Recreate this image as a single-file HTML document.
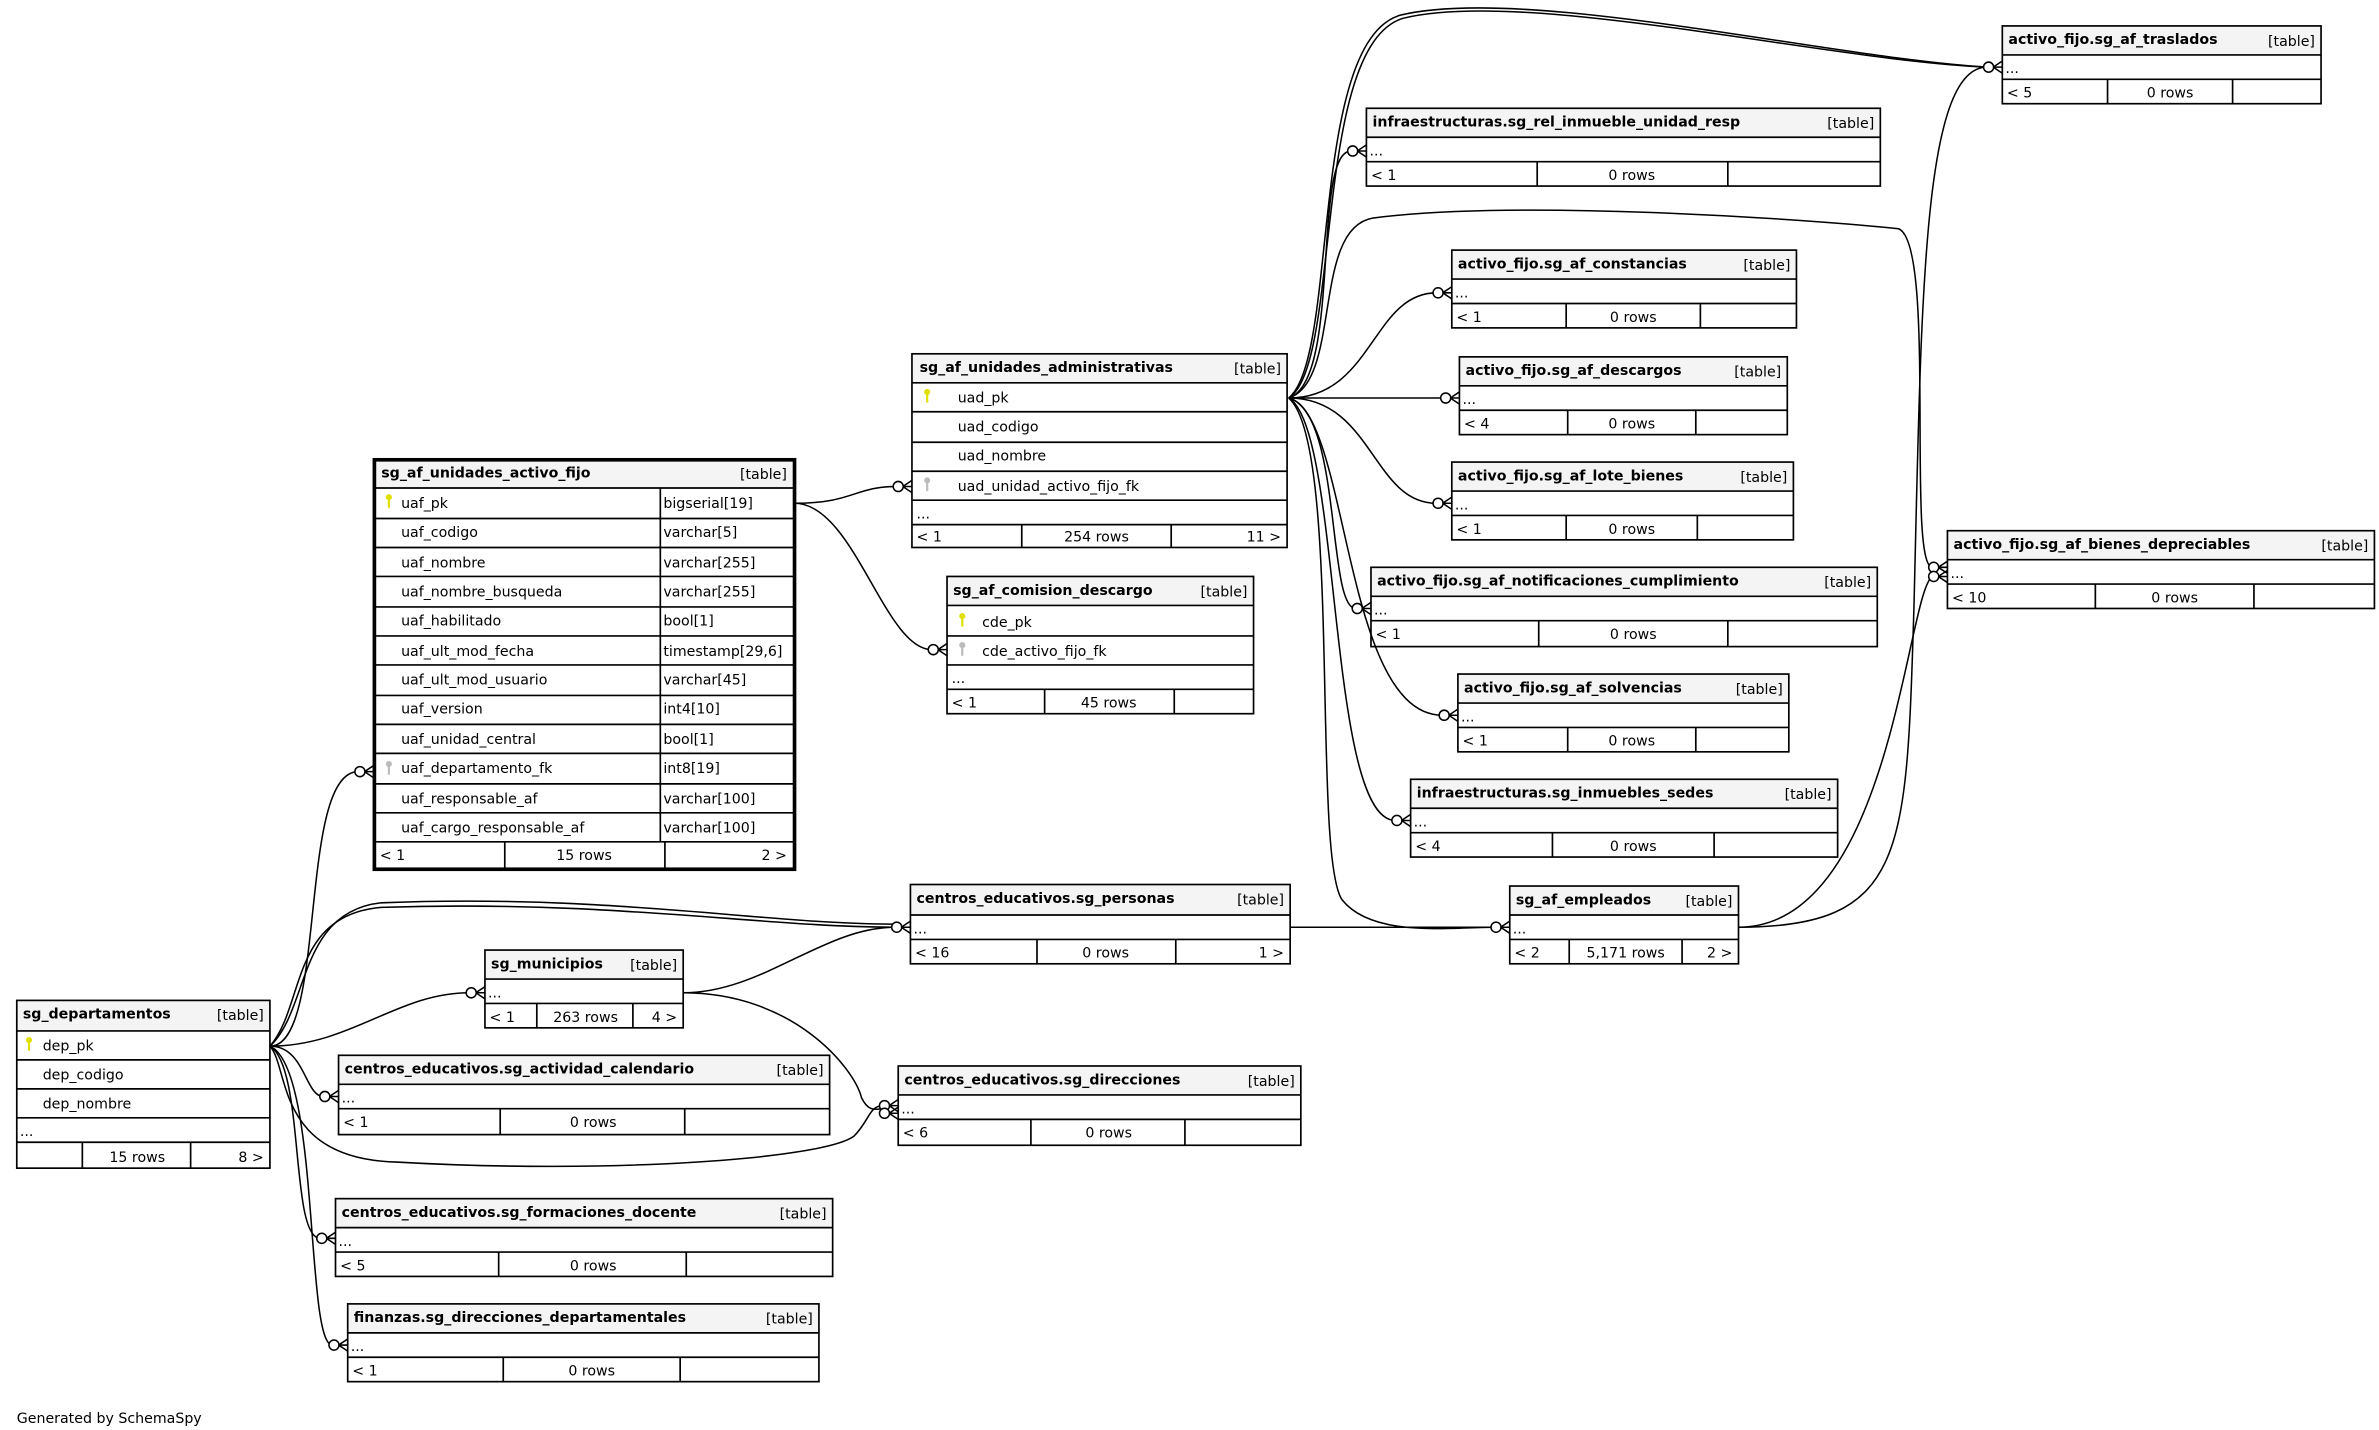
<!DOCTYPE html>
<html><head><meta charset="utf-8"><style>
html,body{margin:0;padding:0;background:#fff;}
svg{display:block;}
text{font-family:"DejaVu Sans","Liberation Sans",sans-serif;font-size:9.3px;fill:#000;}
.h{font-weight:bold;}
.e{text-anchor:end;}
.m{text-anchor:middle;}
.b{fill:none;stroke:#000;stroke-width:1.1;}
.bb{fill:none;stroke:#000;stroke-width:2.4;}
.hd{fill:#f4f4f4;}
.l{stroke:#000;stroke-width:1.1;}
.c{fill:none;stroke:#000;stroke-width:1;}
.k{fill:#e0e000;}
.g{fill:#bbb;}
</style></head><body>
<svg width="2379" height="1430" viewBox="0 0 1560 937.7" xmlns="http://www.w3.org/2000/svg">
<rect width="1560" height="938" fill="#fff"/>

<g class="c">
<path d="M845,261 C880,240 860,30 920,12 C1000,-8 1200,40 1303,44"/>
<path d="M845,261 C878,235 858,28 918,10 C1000,-10 1200,38 1303,44"/>
<path d="M845,261 C880,250 860,99 886,99"/>
<path d="M845,261 C900,261 900,192 942,192"/>
<path d="M845,261 L947,261"/>
<path d="M845,261 C900,261 900,330 942,330"/>
<path d="M845,261 C880,270 870,399 889,399"/>
<path d="M845,261 C885,270 880,469 946,469"/>
<path d="M845,261 C880,280 870,538 915,538"/>
<path d="M845,261 C880,290 860,560 880,590 C900,615 950,608 980,608"/>
<path d="M845,261 C880,250 860,150 900,143 C1000,130 1200,145 1245,150 C1270,160 1250,370 1267,372"/>
<path d="M1140,608 C1250,608 1250,560 1255,400 C1260,200 1260,44 1303,44"/>
<path d="M1140,608 C1240,608 1250,390 1267,378"/>
<path d="M846,608 L980,608"/>
<path d="M521,330 C560,330 560,319 588,319"/>
<path d="M521,330 C560,330 580,426 611,426"/>
<path d="M177,686 C215,686 195,506 235,506"/>
<path d="M177,686 C200,660 190,600 250,595 C400,590 500,608 587,608"/>
<path d="M177,686 C203,662 195,598 250,592 C400,586 500,606 587,606"/>
<path d="M177,686 C230,686 260,651 308,651"/>
<path d="M177,686 C200,686 200,719 212,719"/>
<path d="M177,686 C190,700 180,760 260,762 C400,770 540,760 560,745 C570,735 570,725 579,725"/>
<path d="M177,686 C200,700 190,812 210,812"/>
<path d="M177,686 C210,700 200,882 218,882"/>
<path d="M448,651 C500,651 540,608 587,608"/>
<path d="M448,651 C520,651 560,700 565,720 C570,730 575,727 579,727"/>
</g>
<g class="c" fill="#fff">
<g transform="translate(1313,44)"><circle cx="-9" cy="0" r="3.3" fill="#fff"/><path d="M-6,0 L0,-4 M-6,0 L0,4 M-6,0 L0,0"/></g>
<g transform="translate(896,99)"><circle cx="-9" cy="0" r="3.3" fill="#fff"/><path d="M-6,0 L0,-4 M-6,0 L0,4 M-6,0 L0,0"/></g>
<g transform="translate(952,192)"><circle cx="-9" cy="0" r="3.3" fill="#fff"/><path d="M-6,0 L0,-4 M-6,0 L0,4 M-6,0 L0,0"/></g>
<g transform="translate(957,261)"><circle cx="-9" cy="0" r="3.3" fill="#fff"/><path d="M-6,0 L0,-4 M-6,0 L0,4 M-6,0 L0,0"/></g>
<g transform="translate(952,330)"><circle cx="-9" cy="0" r="3.3" fill="#fff"/><path d="M-6,0 L0,-4 M-6,0 L0,4 M-6,0 L0,0"/></g>
<g transform="translate(899,399)"><circle cx="-9" cy="0" r="3.3" fill="#fff"/><path d="M-6,0 L0,-4 M-6,0 L0,4 M-6,0 L0,0"/></g>
<g transform="translate(956,469)"><circle cx="-9" cy="0" r="3.3" fill="#fff"/><path d="M-6,0 L0,-4 M-6,0 L0,4 M-6,0 L0,0"/></g>
<g transform="translate(925,538)"><circle cx="-9" cy="0" r="3.3" fill="#fff"/><path d="M-6,0 L0,-4 M-6,0 L0,4 M-6,0 L0,0"/></g>
<g transform="translate(990,608)"><circle cx="-9" cy="0" r="3.3" fill="#fff"/><path d="M-6,0 L0,-4 M-6,0 L0,4 M-6,0 L0,0"/></g>
<g transform="translate(1277,372)"><circle cx="-9" cy="0" r="3.3" fill="#fff"/><path d="M-6,0 L0,-4 M-6,0 L0,4 M-6,0 L0,0"/></g>
<g transform="translate(1277,378)"><circle cx="-9" cy="0" r="3.3" fill="#fff"/><path d="M-6,0 L0,-4 M-6,0 L0,4 M-6,0 L0,0"/></g>
<g transform="translate(598,319)"><circle cx="-9" cy="0" r="3.3" fill="#fff"/><path d="M-6,0 L0,-4 M-6,0 L0,4 M-6,0 L0,0"/></g>
<g transform="translate(621,426)"><circle cx="-9" cy="0" r="3.3" fill="#fff"/><path d="M-6,0 L0,-4 M-6,0 L0,4 M-6,0 L0,0"/></g>
<g transform="translate(245,506)"><circle cx="-9" cy="0" r="3.3" fill="#fff"/><path d="M-6,0 L0,-4 M-6,0 L0,4 M-6,0 L0,0"/></g>
<g transform="translate(597,608)"><circle cx="-9" cy="0" r="3.3" fill="#fff"/><path d="M-6,0 L0,-4 M-6,0 L0,4 M-6,0 L0,0"/></g>
<g transform="translate(318,651)"><circle cx="-9" cy="0" r="3.3" fill="#fff"/><path d="M-6,0 L0,-4 M-6,0 L0,4 M-6,0 L0,0"/></g>
<g transform="translate(222,719)"><circle cx="-9" cy="0" r="3.3" fill="#fff"/><path d="M-6,0 L0,-4 M-6,0 L0,4 M-6,0 L0,0"/></g>
<g transform="translate(589,725)"><circle cx="-9" cy="0" r="3.3" fill="#fff"/><path d="M-6,0 L0,-4 M-6,0 L0,4 M-6,0 L0,0"/></g>
<g transform="translate(589,730)"><circle cx="-9" cy="0" r="3.3" fill="#fff"/><path d="M-6,0 L0,-4 M-6,0 L0,4 M-6,0 L0,0"/></g>
<g transform="translate(220,812)"><circle cx="-9" cy="0" r="3.3" fill="#fff"/><path d="M-6,0 L0,-4 M-6,0 L0,4 M-6,0 L0,0"/></g>
<g transform="translate(228,882)"><circle cx="-9" cy="0" r="3.3" fill="#fff"/><path d="M-6,0 L0,-4 M-6,0 L0,4 M-6,0 L0,0"/></g>
</g>

<g><rect class="hd" x="1313" y="17" width="209" height="19"/><rect class="b" x="1313" y="17" width="209" height="51"/>
<line class="l" x1="1313" y1="36" x2="1522" y2="36"/><line class="l" x1="1313" y1="52" x2="1522" y2="52"/>
<line class="l" x1="1382" y1="52" x2="1382" y2="68"/><line class="l" x1="1464" y1="52" x2="1464" y2="68"/>
<text class="h" x="1317" y="29">activo_fijo.sg_af_traslados</text><text class="e" x="1518" y="30">[table]</text>
<text x="1315" y="48">...</text><text x="1316" y="64">&lt; 5</text><text class="m" x="1423" y="64">0 rows</text></g>
<g><rect class="hd" x="896" y="71" width="337" height="19"/><rect class="b" x="896" y="71" width="337" height="51"/>
<line class="l" x1="896" y1="90" x2="1233" y2="90"/><line class="l" x1="896" y1="106" x2="1233" y2="106"/>
<line class="l" x1="1008" y1="106" x2="1008" y2="122"/><line class="l" x1="1133" y1="106" x2="1133" y2="122"/>
<text class="h" x="900" y="83">infraestructuras.sg_rel_inmueble_unidad_resp</text><text class="e" x="1229" y="84">[table]</text>
<text x="898" y="102">...</text><text x="899" y="118">&lt; 1</text><text class="m" x="1070" y="118">0 rows</text></g>
<g><rect class="hd" x="952" y="164" width="226" height="19"/><rect class="b" x="952" y="164" width="226" height="51"/>
<line class="l" x1="952" y1="183" x2="1178" y2="183"/><line class="l" x1="952" y1="199" x2="1178" y2="199"/>
<line class="l" x1="1027" y1="199" x2="1027" y2="215"/><line class="l" x1="1115" y1="199" x2="1115" y2="215"/>
<text class="h" x="956" y="176">activo_fijo.sg_af_constancias</text><text class="e" x="1174" y="177">[table]</text>
<text x="954" y="195">...</text><text x="955" y="211">&lt; 1</text><text class="m" x="1071" y="211">0 rows</text></g>
<g><rect class="hd" x="957" y="234" width="215" height="19"/><rect class="b" x="957" y="234" width="215" height="51"/>
<line class="l" x1="957" y1="253" x2="1172" y2="253"/><line class="l" x1="957" y1="269" x2="1172" y2="269"/>
<line class="l" x1="1028" y1="269" x2="1028" y2="285"/><line class="l" x1="1112" y1="269" x2="1112" y2="285"/>
<text class="h" x="961" y="246">activo_fijo.sg_af_descargos</text><text class="e" x="1168" y="247">[table]</text>
<text x="959" y="265">...</text><text x="960" y="281">&lt; 4</text><text class="m" x="1070" y="281">0 rows</text></g>
<g><rect class="hd" x="952" y="303" width="224" height="19"/><rect class="b" x="952" y="303" width="224" height="51"/>
<line class="l" x1="952" y1="322" x2="1176" y2="322"/><line class="l" x1="952" y1="338" x2="1176" y2="338"/>
<line class="l" x1="1027" y1="338" x2="1027" y2="354"/><line class="l" x1="1113" y1="338" x2="1113" y2="354"/>
<text class="h" x="956" y="315">activo_fijo.sg_af_lote_bienes</text><text class="e" x="1172" y="316">[table]</text>
<text x="954" y="334">...</text><text x="955" y="350">&lt; 1</text><text class="m" x="1070" y="350">0 rows</text></g>
<g><rect class="hd" x="899" y="372" width="332" height="19"/><rect class="b" x="899" y="372" width="332" height="52"/>
<line class="l" x1="899" y1="391" x2="1231" y2="391"/><line class="l" x1="899" y1="407" x2="1231" y2="407"/>
<line class="l" x1="1009" y1="407" x2="1009" y2="424"/><line class="l" x1="1133" y1="407" x2="1133" y2="424"/>
<text class="h" x="903" y="384">activo_fijo.sg_af_notificaciones_cumplimiento</text><text class="e" x="1227" y="385">[table]</text>
<text x="901" y="403">...</text><text x="902" y="419">&lt; 1</text><text class="m" x="1071" y="419">0 rows</text></g>
<g><rect class="hd" x="956" y="442" width="217" height="19"/><rect class="b" x="956" y="442" width="217" height="51"/>
<line class="l" x1="956" y1="461" x2="1173" y2="461"/><line class="l" x1="956" y1="477" x2="1173" y2="477"/>
<line class="l" x1="1028" y1="477" x2="1028" y2="493"/><line class="l" x1="1112" y1="477" x2="1112" y2="493"/>
<text class="h" x="960" y="454">activo_fijo.sg_af_solvencias</text><text class="e" x="1169" y="455">[table]</text>
<text x="958" y="473">...</text><text x="959" y="489">&lt; 1</text><text class="m" x="1070" y="489">0 rows</text></g>
<g><rect class="hd" x="925" y="511" width="280" height="19"/><rect class="b" x="925" y="511" width="280" height="51"/>
<line class="l" x1="925" y1="530" x2="1205" y2="530"/><line class="l" x1="925" y1="546" x2="1205" y2="546"/>
<line class="l" x1="1018" y1="546" x2="1018" y2="562"/><line class="l" x1="1124" y1="546" x2="1124" y2="562"/>
<text class="h" x="929" y="523">infraestructuras.sg_inmuebles_sedes</text><text class="e" x="1201" y="524">[table]</text>
<text x="927" y="542">...</text><text x="928" y="558">&lt; 4</text><text class="m" x="1071" y="558">0 rows</text></g>
<g><rect class="hd" x="990" y="581" width="150" height="19"/><rect class="b" x="990" y="581" width="150" height="51"/>
<line class="l" x1="990" y1="600" x2="1140" y2="600"/><line class="l" x1="990" y1="616" x2="1140" y2="616"/>
<line class="l" x1="1029" y1="616" x2="1029" y2="632"/><line class="l" x1="1103" y1="616" x2="1103" y2="632"/>
<text class="h" x="994" y="593">sg_af_empleados</text><text class="e" x="1136" y="594">[table]</text>
<text x="992" y="612">...</text><text x="993" y="628">&lt; 2</text><text class="m" x="1066" y="628">5,171 rows</text><text class="e" x="1136" y="628">2 &gt;</text></g>
<g><rect class="hd" x="1277" y="348" width="280" height="19"/><rect class="b" x="1277" y="348" width="280" height="51"/>
<line class="l" x1="1277" y1="367" x2="1557" y2="367"/><line class="l" x1="1277" y1="383" x2="1557" y2="383"/>
<line class="l" x1="1374" y1="383" x2="1374" y2="399"/><line class="l" x1="1478" y1="383" x2="1478" y2="399"/>
<text class="h" x="1281" y="360">activo_fijo.sg_af_bienes_depreciables</text><text class="e" x="1553" y="361">[table]</text>
<text x="1279" y="379">...</text><text x="1280" y="395">&lt; 10</text><text class="m" x="1426" y="395">0 rows</text></g>
<g><rect class="hd" x="597" y="580" width="249" height="20"/><rect class="b" x="597" y="580" width="249" height="52"/>
<line class="l" x1="597" y1="600" x2="846" y2="600"/><line class="l" x1="597" y1="616" x2="846" y2="616"/>
<line class="l" x1="680" y1="616" x2="680" y2="632"/><line class="l" x1="771" y1="616" x2="771" y2="632"/>
<text class="h" x="601" y="592">centros_educativos.sg_personas</text><text class="e" x="842" y="593">[table]</text>
<text x="599" y="612">...</text><text x="600" y="628">&lt; 16</text><text class="m" x="725" y="628">0 rows</text><text class="e" x="842" y="628">1 &gt;</text></g>
<g><rect class="hd" x="318" y="623" width="130" height="19"/><rect class="b" x="318" y="623" width="130" height="51"/>
<line class="l" x1="318" y1="642" x2="448" y2="642"/><line class="l" x1="318" y1="658" x2="448" y2="658"/>
<line class="l" x1="352" y1="658" x2="352" y2="674"/><line class="l" x1="415" y1="658" x2="415" y2="674"/>
<text class="h" x="322" y="635">sg_municipios</text><text class="e" x="444" y="636">[table]</text>
<text x="320" y="654">...</text><text x="321" y="670">&lt; 1</text><text class="m" x="384" y="670">263 rows</text><text class="e" x="444" y="670">4 &gt;</text></g>
<g><rect class="hd" x="222" y="692" width="322" height="19"/><rect class="b" x="222" y="692" width="322" height="52"/>
<line class="l" x1="222" y1="711" x2="544" y2="711"/><line class="l" x1="222" y1="727" x2="544" y2="727"/>
<line class="l" x1="328" y1="727" x2="328" y2="744"/><line class="l" x1="449" y1="727" x2="449" y2="744"/>
<text class="h" x="226" y="704">centros_educativos.sg_actividad_calendario</text><text class="e" x="540" y="705">[table]</text>
<text x="224" y="723">...</text><text x="225" y="739">&lt; 1</text><text class="m" x="389" y="739">0 rows</text></g>
<g><rect class="hd" x="589" y="699" width="264" height="19"/><rect class="b" x="589" y="699" width="264" height="52"/>
<line class="l" x1="589" y1="718" x2="853" y2="718"/><line class="l" x1="589" y1="734" x2="853" y2="734"/>
<line class="l" x1="676" y1="734" x2="676" y2="751"/><line class="l" x1="777" y1="734" x2="777" y2="751"/>
<text class="h" x="593" y="711">centros_educativos.sg_direcciones</text><text class="e" x="849" y="712">[table]</text>
<text x="591" y="730">...</text><text x="592" y="746">&lt; 6</text><text class="m" x="727" y="746">0 rows</text></g>
<g><rect class="hd" x="220" y="786" width="326" height="19"/><rect class="b" x="220" y="786" width="326" height="51"/>
<line class="l" x1="220" y1="805" x2="546" y2="805"/><line class="l" x1="220" y1="821" x2="546" y2="821"/>
<line class="l" x1="327" y1="821" x2="327" y2="837"/><line class="l" x1="450" y1="821" x2="450" y2="837"/>
<text class="h" x="224" y="798">centros_educativos.sg_formaciones_docente</text><text class="e" x="542" y="799">[table]</text>
<text x="222" y="817">...</text><text x="223" y="833">&lt; 5</text><text class="m" x="389" y="833">0 rows</text></g>
<g><rect class="hd" x="228" y="855" width="309" height="19"/><rect class="b" x="228" y="855" width="309" height="51"/>
<line class="l" x1="228" y1="874" x2="537" y2="874"/><line class="l" x1="228" y1="890" x2="537" y2="890"/>
<line class="l" x1="330" y1="890" x2="330" y2="906"/><line class="l" x1="446" y1="890" x2="446" y2="906"/>
<text class="h" x="232" y="867">finanzas.sg_direcciones_departamentales</text><text class="e" x="533" y="868">[table]</text>
<text x="230" y="886">...</text><text x="231" y="902">&lt; 1</text><text class="m" x="388" y="902">0 rows</text></g>

<g><rect class="hd" x="598" y="232" width="246" height="19"/><rect class="b" x="598" y="232" width="246" height="127"/>
<line class="l" x1="598" y1="251" x2="844" y2="251"/><line class="l" x1="598" y1="270" x2="844" y2="270"/>
<line class="l" x1="598" y1="290" x2="844" y2="290"/><line class="l" x1="598" y1="309" x2="844" y2="309"/>
<line class="l" x1="598" y1="328" x2="844" y2="328"/><line class="l" x1="598" y1="344" x2="844" y2="344"/>
<line class="l" x1="670" y1="344" x2="670" y2="359"/><line class="l" x1="768" y1="344" x2="768" y2="359"/>
<text class="h" x="603" y="244">sg_af_unidades_administrativas</text><text class="e" x="840" y="245">[table]</text>
<circle class="k" cx="608" cy="257" r="2"/><rect class="k" x="607.3" y="257" width="1.4" height="7"/>
<text x="628" y="264">uad_pk</text><text x="628" y="283">uad_codigo</text><text x="628" y="302">uad_nombre</text>
<circle class="g" cx="608" cy="315" r="2"/><rect class="g" x="607.3" y="315" width="1.4" height="7"/>
<text x="628" y="322">uad_unidad_activo_fijo_fk</text>
<text x="601" y="340">...</text><text x="601" y="355">&lt; 1</text><text class="m" x="719" y="355">254 rows</text><text class="e" x="840" y="355">11 &gt;</text></g>

<g><rect class="hd" x="621" y="378" width="201" height="19"/><rect class="b" x="621" y="378" width="201" height="90"/>
<line class="l" x1="621" y1="397" x2="822" y2="397"/><line class="l" x1="621" y1="417" x2="822" y2="417"/>
<line class="l" x1="621" y1="436" x2="822" y2="436"/><line class="l" x1="621" y1="452" x2="822" y2="452"/>
<line class="l" x1="685" y1="452" x2="685" y2="468"/><line class="l" x1="770" y1="452" x2="770" y2="468"/>
<text class="h" x="625" y="390">sg_af_comision_descargo</text><text class="e" x="818" y="391">[table]</text>
<circle class="k" cx="631" cy="404" r="2"/><rect class="k" x="630.3" y="404" width="1.4" height="7"/>
<text x="644" y="411">cde_pk</text>
<circle class="g" cx="631" cy="423" r="2"/><rect class="g" x="630.3" y="423" width="1.4" height="7"/>
<text x="644" y="430">cde_activo_fijo_fk</text>
<text x="624" y="448">...</text><text x="624" y="464">&lt; 1</text><text class="m" x="727" y="464">45 rows</text></g>

<g><rect class="hd" x="245" y="301" width="276" height="19"/>
<line class="l" x1="245" y1="320" x2="521" y2="320"/>
<line class="l" x1="245" y1="340" x2="521" y2="340"/>
<line class="l" x1="245" y1="359" x2="521" y2="359"/>
<line class="l" x1="245" y1="378" x2="521" y2="378"/>
<line class="l" x1="245" y1="398" x2="521" y2="398"/>
<line class="l" x1="245" y1="417" x2="521" y2="417"/>
<line class="l" x1="245" y1="436" x2="521" y2="436"/>
<line class="l" x1="245" y1="456" x2="521" y2="456"/>
<line class="l" x1="245" y1="475" x2="521" y2="475"/>
<line class="l" x1="245" y1="494" x2="521" y2="494"/>
<line class="l" x1="245" y1="514" x2="521" y2="514"/>
<line class="l" x1="245" y1="533" x2="521" y2="533"/>
<line class="l" x1="245" y1="552" x2="521" y2="552"/>
<line class="l" x1="433" y1="320" x2="433" y2="552"/>
<line class="l" x1="331" y1="552" x2="331" y2="570"/><line class="l" x1="436" y1="552" x2="436" y2="570"/>
<rect class="bb" x="245.5" y="301.5" width="275.5" height="268.5"/>
<text class="h" x="250" y="313">sg_af_unidades_activo_fijo</text><text class="e" x="516" y="314">[table]</text>
<circle class="k" cx="255" cy="326" r="2"/><rect class="k" x="254.3" y="326" width="1.4" height="7"/>
<text x="263" y="333">uaf_pk</text><text x="435" y="333">bigserial[19]</text>
<text x="263" y="352">uaf_codigo</text><text x="435" y="352">varchar[5]</text>
<text x="263" y="372">uaf_nombre</text><text x="435" y="372">varchar[255]</text>
<text x="263" y="391">uaf_nombre_busqueda</text><text x="435" y="391">varchar[255]</text>
<text x="263" y="410">uaf_habilitado</text><text x="435" y="410">bool[1]</text>
<text x="263" y="430">uaf_ult_mod_fecha</text><text x="435" y="430">timestamp[29,6]</text>
<text x="263" y="449">uaf_ult_mod_usuario</text><text x="435" y="449">varchar[45]</text>
<text x="263" y="468">uaf_version</text><text x="435" y="468">int4[10]</text>
<text x="263" y="488">uaf_unidad_central</text><text x="435" y="488">bool[1]</text>
<circle class="g" cx="255" cy="501" r="2"/><rect class="g" x="254.3" y="501" width="1.4" height="7"/>
<text x="263" y="507">uaf_departamento_fk</text><text x="435" y="507">int8[19]</text>
<text x="263" y="527">uaf_responsable_af</text><text x="435" y="527">varchar[100]</text>
<text x="263" y="546">uaf_cargo_responsable_af</text><text x="435" y="546">varchar[100]</text>
<text x="249" y="564">&lt; 1</text><text class="m" x="383" y="564">15 rows</text><text class="e" x="516" y="564">2 &gt;</text></g>

<g><rect class="hd" x="11" y="656" width="166" height="20"/><rect class="b" x="11" y="656" width="166" height="110"/>
<line class="l" x1="11" y1="676" x2="177" y2="676"/><line class="l" x1="11" y1="695" x2="177" y2="695"/>
<line class="l" x1="11" y1="714" x2="177" y2="714"/><line class="l" x1="11" y1="733" x2="177" y2="733"/>
<line class="l" x1="11" y1="749" x2="177" y2="749"/>
<line class="l" x1="54" y1="749" x2="54" y2="766"/><line class="l" x1="125" y1="749" x2="125" y2="766"/>
<text class="h" x="15" y="668">sg_departamentos</text><text class="e" x="173" y="669">[table]</text>
<circle class="k" cx="19" cy="682" r="2"/><rect class="k" x="18.3" y="682" width="1.4" height="7"/>
<text x="28" y="689">dep_pk</text><text x="28" y="708">dep_codigo</text><text x="28" y="727">dep_nombre</text>
<text x="13" y="745">...</text><text class="m" x="90" y="762">15 rows</text><text class="e" x="173" y="762">8 &gt;</text></g>

<text x="11" y="933">Generated by SchemaSpy</text>
</svg>
</body></html>
